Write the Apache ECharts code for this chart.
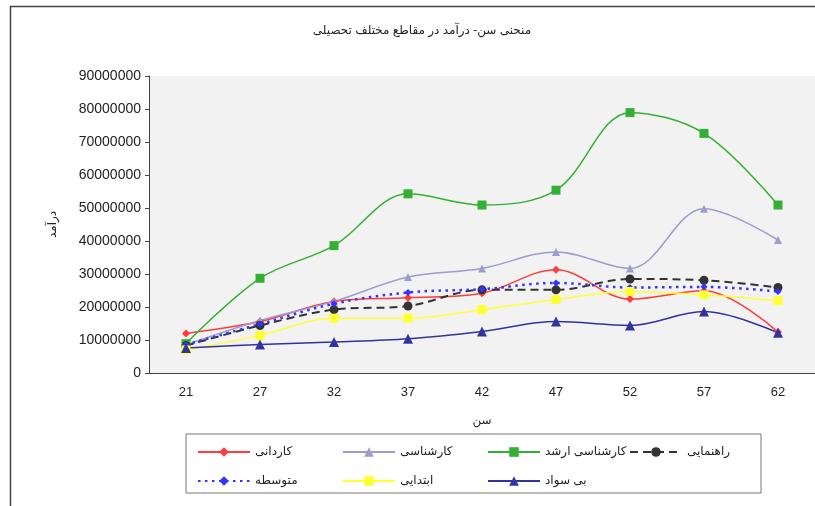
<!DOCTYPE html>
<html>
<head>
    <meta charset="utf-8">
    <title>chart</title>
    <script src="https://cdn.jsdelivr.net/npm/echarts@6/dist/echarts.min.js"></script>
    <style>
        html, body { margin: 0; padding: 0; background: #fff; }
        #main { width: 815px; height: 506px; }
    </style>
</head>
<body>
<div id="main"></div>
<script type="text/javascript">
    // categories (سن)
    var ages = ['21', '27', '32', '37', '42', '47', '52', '57', '62'];

    // series values
    var kardani      = [12000000, 15600000, 21700000, 22800000, 24200000, 31300000, 22400000, 24900000, 12400000];
    var karshenasi   = [8500000, 15900000, 21700000, 29100000, 31700000, 36700000, 31700000, 49800000, 40300000];
    var arshad       = [8900000, 28700000, 38600000, 54300000, 50900000, 55400000, 78900000, 72600000, 50900000];
    var rahnamaei    = [8300000, 14400000, 19200000, 20300000, 25200000, 25200000, 28500000, 28100000, 25900000];
    var motevasete   = [8600000, 14800000, 21000000, 24400000, 25400000, 27300000, 25900000, 26100000, 24700000];
    var ebtedaei     = [7000000, 11400000, 16600000, 16600000, 19200000, 22300000, 24700000, 23700000, 21900000];
    var bisavad      = [7600000, 8600000, 9400000, 10400000, 12600000, 15600000, 14400000, 18600000, 12200000];

    var seriesNames = ['کاردانی', 'کارشناسی', 'کارشناسی ارشد', 'راهنمایی', 'متوسطه', 'ابتدایی', 'بی سواد'];

    var fontAr = 'Arial, "DejaVu Sans", sans-serif';

    var dom = document.getElementById('main');
    var myChart = echarts.init(dom, null, { renderer: 'canvas' });

    function mk(name, data, color, symbol, size, lineType, width) {
        return {
            name: name,
            type: 'line',
            data: data,
            smooth: 0.35,
            symbol: symbol,
            symbolSize: size,
            itemStyle: { color: color },
            lineStyle: { color: color, width: width, type: lineType },
            emphasis: { disabled: true }
        };
    }

    // legend positions (two rows in a box)
    var legPos = [
        [192, 441], [337, 441], [482, 441], [624, 441],
        [192, 470], [337, 470], [482, 470]
    ];
    var legends = seriesNames.map(function (n, i) {
        return {
            data: [n],
            left: legPos[i][0],
            top: legPos[i][1],
            itemWidth: 52,
            itemHeight: 12,
            selectedMode: false,
            textStyle: { fontSize: 12, color: '#222', fontFamily: fontAr }
        };
    });

    var option = {
        backgroundColor: '#fff',
        animation: false,
        title: {
            text: 'منحنی سن- درآمد در مقاطع مختلف تحصیلی',
            left: 417,
            textAlign: 'center',
            top: 20,
            textStyle: { fontSize: 12, fontWeight: 'normal', color: '#222', fontFamily: fontAr }
        },
        legend: legends,
        graphic: [
            {
                type: 'polyline',
                shape: { points: [[10.5, 520], [10.5, 6.5], [830, 6.5]] },
                style: { stroke: '#444', lineWidth: 1.5, fill: null },
                silent: true
            },
            {
                type: 'rect',
                shape: { x: 186, y: 434, width: 575, height: 59 },
                style: { stroke: '#777', lineWidth: 1, fill: null },
                silent: true,
                z: -1
            }
        ],
        grid: {
            left: 149,
            top: 76,
            right: -9,
            bottom: 133,
            show: true,
            backgroundColor: '#f2f2f2',
            borderWidth: 0
        },
        xAxis: {
            type: 'category',
            data: ages,
            boundaryGap: true,
            name: 'سن',
            nameLocation: 'middle',
            nameGap: 42,
            nameTextStyle: { fontSize: 12, color: '#222', fontFamily: fontAr },
            axisLine: { lineStyle: { color: '#444', width: 1 } },
            axisTick: { alignWithLabel: false, length: 5, lineStyle: { color: '#444' } },
            axisLabel: { fontSize: 13, color: '#222', margin: 13, fontFamily: 'Arial, "Liberation Sans", sans-serif' },
            splitLine: { show: false }
        },
        yAxis: {
            type: 'value',
            min: 0,
            max: 90000000,
            interval: 10000000,
            name: 'درآمد',
            nameLocation: 'middle',
            nameGap: 90,
            nameTextStyle: { fontSize: 12, color: '#222', fontFamily: fontAr },
            axisLine: { show: true, lineStyle: { color: '#444', width: 1 } },
            axisTick: { show: true, length: 4, lineStyle: { color: '#444' } },
            axisLabel: {
                fontSize: 14, color: '#222', margin: 8,
                fontFamily: 'Arial, "Liberation Sans", sans-serif',
                formatter: function (v) { return String(v); }
            },
            splitLine: { show: false }
        },
        series: [
            mk(seriesNames[0], kardani, '#ff3b3b', 'diamond', 8, 'solid', 1.5),
            mk(seriesNames[1], karshenasi, '#9c9cd0', 'triangle', 8, 'solid', 1.5),
            mk(seriesNames[2], arshad, '#33b033', 'rect', 9, 'solid', 1.5),
            mk(seriesNames[3], rahnamaei, '#333333', 'circle', 9, [8, 5], 2),
            mk(seriesNames[4], motevasete, '#3333ff', 'diamond', 7, [2.5, 4.5], 2.5),
            mk(seriesNames[5], ebtedaei, '#ffff33', 'rect', 9, 'solid', 1.5),
            mk(seriesNames[6], bisavad, '#3333a0', 'triangle', 10, 'solid', 1.5)
        ]
    };

    if (option && typeof option === 'object') {
        myChart.setOption(option);
    }

    window.addEventListener('resize', myChart.resize);
</script>
</body>
</html>
